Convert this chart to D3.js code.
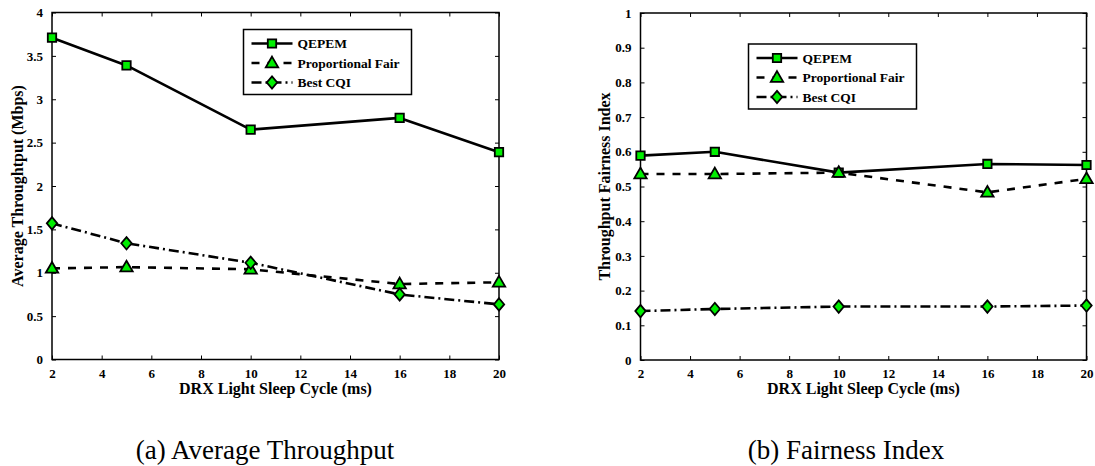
<!DOCTYPE html>
<html>
<head>
<meta charset="utf-8">
<script src="https://cdn.jsdelivr.net/npm/d3@7"></script>
<style>
  html, body { margin: 0; padding: 0; background: #fff; }
  svg { display: block; }
  text { font-family: "Liberation Serif", "Times New Roman", serif; }
</style>
</head>
<body>
<svg id="fig" width="1095" height="466"></svg>
<script>
// ---------- data ----------
const sleepCycle = [2, 5, 10, 16, 20];
const xTicks = [2, 4, 6, 8, 10, 12, 14, 16, 18, 20];
const seriesNames = ["QEPEM", "Proportional Fair", "Best CQI"];

const thrQEPEM = [3.71, 3.39, 2.65, 2.785, 2.39];
const thrPF    = [1.05, 1.065, 1.04, 0.87, 0.89];
const thrCQI   = [1.57, 1.34, 1.115, 0.75, 0.635];
const thrTicks = [0, 0.5, 1, 1.5, 2, 2.5, 3, 3.5, 4];

const fairQEPEM = [0.589, 0.600, 0.540, 0.565, 0.562];
const fairPF    = [0.536, 0.536, 0.540, 0.483, 0.522];
const fairCQI   = [0.141, 0.147, 0.154, 0.154, 0.157];
const fairTicks = [0, 0.1, 0.2, 0.3, 0.4, 0.5, 0.6, 0.7, 0.8, 0.9, 1];

const xLabel = "DRX Light Sleep Cycle (ms)";
const captions = ["(a) Average Throughput", "(b) Fairness Index"];

// ---------- styles ----------
const GREEN = "#00ee00";
const styles = [
  { dash: null,        marker: "square"   },
  { dash: "8,8",       marker: "triangle" },
  { dash: "10,4,2,4",  marker: "diamond"  }
];
const markerPaths = {
  square:   "M-4.2,-4.2L4.2,-4.2L4.2,4.2L-4.2,4.2Z",
  triangle: "M0,-6.4L6.2,4.3L-6.2,4.3Z",
  diamond:  "M0,-6.2L5.2,0L0,6.2L-5.2,0Z"
};
const SERIF = "'Liberation Serif', 'Times New Roman', serif";

const svg = d3.select("#fig");

function drawPanel(cfg) {
  const g = svg.append("g");
  const x = d3.scaleLinear().domain([2, 20]).range([cfg.left, cfg.right]);
  const y = d3.scaleLinear().domain(cfg.yDomain).range([cfg.bottom, cfg.top]);

  // frame
  g.append("rect")
    .attr("x", cfg.left).attr("y", cfg.top)
    .attr("width", cfg.right - cfg.left).attr("height", cfg.bottom - cfg.top)
    .attr("fill", "none").attr("stroke", "#000").attr("stroke-width", 1.5);

  const tickLen = 4;
  const xAxis = g.append("g").attr("transform", `translate(0,${cfg.bottom})`)
    .call(d3.axisBottom(x).tickValues(xTicks).tickSizeInner(-tickLen).tickSizeOuter(0).tickPadding(9).tickFormat(d3.format("d")));
  const xAxisTop = g.append("g").attr("transform", `translate(0,${cfg.top})`)
    .call(d3.axisTop(x).tickValues(xTicks).tickSizeInner(-tickLen).tickSizeOuter(0).tickFormat(""));
  const yAxis = g.append("g").attr("transform", `translate(${cfg.left},0)`)
    .call(d3.axisLeft(y).tickValues(cfg.yTicks).tickSizeInner(-tickLen).tickSizeOuter(0).tickPadding(9).tickFormat(d => String(+d.toFixed(2))));
  const yAxisR = g.append("g").attr("transform", `translate(${cfg.right},0)`)
    .call(d3.axisRight(y).tickValues(cfg.yTicks).tickSizeInner(-tickLen).tickSizeOuter(0).tickFormat(""));

  [xAxis, xAxisTop, yAxis, yAxisR].forEach(a => {
    a.select(".domain").remove();
    a.selectAll(".tick line").attr("stroke", "#000").attr("stroke-width", 1);
    a.selectAll("text")
      .attr("font-family", SERIF)
      .attr("font-weight", "bold").attr("font-size", 13).attr("fill", "#000");
  });

  // series
  const line = d3.line().x((d, i) => x(sleepCycle[i])).y(d => y(d));
  cfg.series.forEach((vals, si) => {
    const st = styles[si];
    g.append("path").datum(vals)
      .attr("d", line)
      .attr("fill", "none").attr("stroke", "#000").attr("stroke-width", 2.6)
      .attr("stroke-linejoin", "round")
      .attr("stroke-dasharray", st.dash);
    g.selectAll(null).data(vals).enter().append("path")
      .attr("d", markerPaths[st.marker])
      .attr("transform", (d, i) => `translate(${x(sleepCycle[i])},${y(d)})`)
      .attr("fill", GREEN).attr("stroke", "#000").attr("stroke-width", 1.8)
      .attr("stroke-linejoin", "miter");
  });

  // axis labels
  g.append("text")
    .attr("x", (cfg.left + cfg.right) / 2).attr("y", cfg.bottom + 34)
    .attr("text-anchor", "middle").attr("font-family", SERIF)
    .attr("font-weight", "bold").attr("font-size", 16)
    .text(xLabel);
  g.append("text")
    .attr("transform", `translate(${cfg.yLabelX},${(cfg.top + cfg.bottom) / 2}) rotate(-90)`)
    .attr("text-anchor", "middle").attr("dy", "0.35em").attr("font-family", SERIF)
    .attr("font-weight", "bold").attr("font-size", 16)
    .text(cfg.yLabel);

  // legend
  const L = cfg.legend;
  const lg = g.append("g");
  lg.append("rect").attr("x", L.x).attr("y", L.y).attr("width", 168).attr("height", 65)
    .attr("fill", "#fff").attr("stroke", "#000").attr("stroke-width", 1.5);
  seriesNames.forEach((name, si) => {
    const st = styles[si];
    const cy = L.y + 14 + si * 19.5;
    lg.append("line")
      .attr("x1", L.x + 8).attr("x2", L.x + 49).attr("y1", cy).attr("y2", cy)
      .attr("stroke", "#000").attr("stroke-width", 2.6)
      .attr("stroke-dasharray", st.dash);
    lg.append("path").attr("d", markerPaths[st.marker])
      .attr("transform", `translate(${L.x + 28.5},${cy})`)
      .attr("fill", GREEN).attr("stroke", "#000").attr("stroke-width", 1.8);
    lg.append("text").attr("x", L.x + 54).attr("y", cy).attr("dy", "0.35em")
      .attr("font-family", SERIF)
      .attr("font-weight", "bold").attr("font-size", 13.5).text(name);
  });

  // caption
  g.append("text").attr("x", cfg.captionX).attr("y", 459)
    .attr("text-anchor", "middle").attr("font-family", SERIF)
    .attr("font-size", 27).text(cfg.caption);
}

drawPanel({
  left: 52, right: 499, top: 12.5, bottom: 359.5,
  yDomain: [0, 4], yTicks: thrTicks,
  series: [thrQEPEM, thrPF, thrCQI],
  yLabel: "Average Throughtput (Mbps)", yLabelX: 17.5,
  legend: { x: 243.5, y: 29.5 },
  caption: captions[0], captionX: 265
});
drawPanel({
  left: 640.5, right: 1086.5, top: 13, bottom: 360,
  yDomain: [0, 1], yTicks: fairTicks,
  series: [fairQEPEM, fairPF, fairCQI],
  yLabel: "Throughput Fairness Index", yLabelX: 604,
  legend: { x: 748.5, y: 44 },
  caption: captions[1], captionX: 846
});
</script>
</body>
</html>
